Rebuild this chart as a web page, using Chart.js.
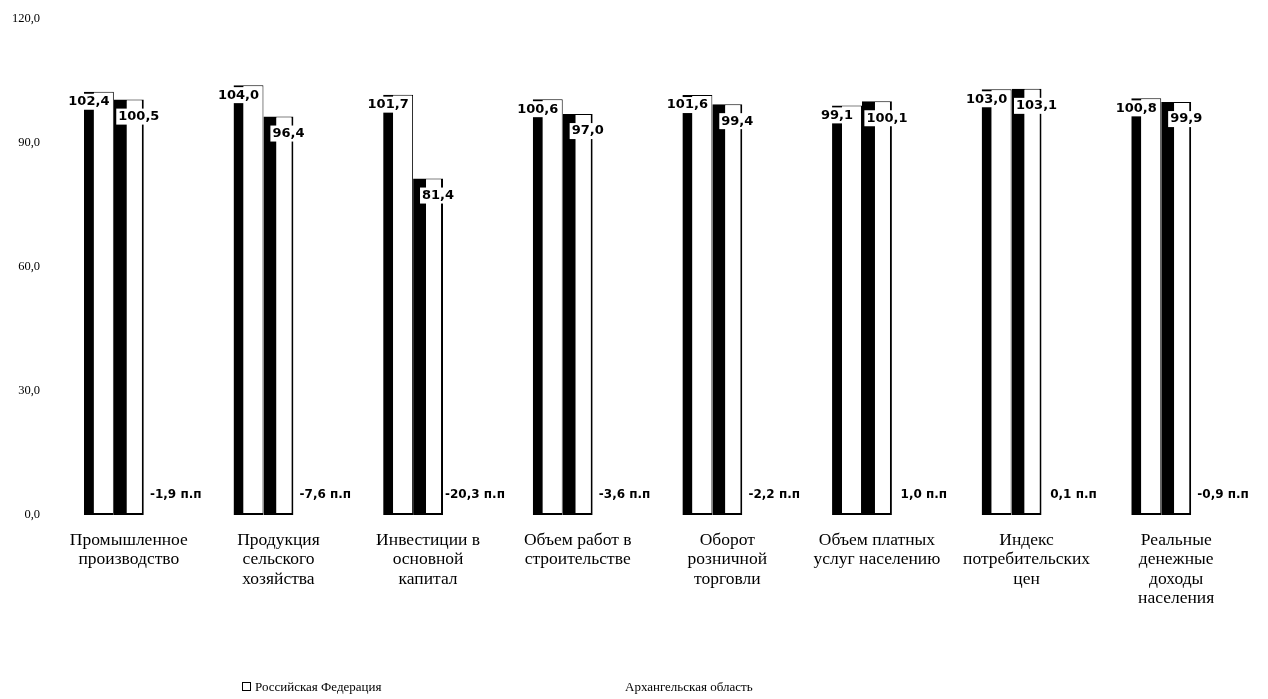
<!DOCTYPE html>
<html>
<head>
<meta charset="utf-8">
<script src="https://cdn.jsdelivr.net/npm/chart.js@4.4.1/dist/chart.umd.min.js"></script>
<style>
  html, body { margin: 0; padding: 0; background: #fff; }
  #wrap { position: relative; width: 1268px; height: 699px; }
  canvas { position: absolute; left: 0; top: 0; }
  .leg { position: absolute; top: 679px; font-family: "Liberation Serif", serif; font-size: 13px; color: #000; white-space: nowrap; }
  .box { display: inline-block; width: 7px; height: 7px; border: 1px solid #000; margin-right: 4px; vertical-align: 0px; }
</style>
</head>
<body>
<div id="wrap">
  <canvas id="c" width="1268" height="699"></canvas>
  <div class="leg" style="left:242px;"><span class="box"></span>Российская Федерация</div>
  <div class="leg" style="left:625px;">Архангельская область</div>
</div>
<script>
const categories = [
  ["Промышленное", "производство"],
  ["Продукция", "сельского", "хозяйства"],
  ["Инвестиции в", "основной", "капитал"],
  ["Объем работ в", "строительстве"],
  ["Оборот", "розничной", "торговли"],
  ["Объем платных", "услуг населению"],
  ["Индекс", "потребительских", "цен"],
  ["Реальные", "денежные", "доходы", "населения"]
];
const seriesNames = ["Российская Федерация", "Архангельская область", "Разница, п.п"];
const russia = [102.4, 104.0, 101.7, 100.6, 101.6, 99.1, 103.0, 100.8];
const arkhangelsk = [100.5, 96.4, 81.4, 97.0, 99.4, 100.1, 103.1, 99.9];
const difference = [-1.9, -7.6, -20.3, -3.6, -2.2, 1.0, 0.1, -0.9];
const yTicks = [0, 30, 60, 90, 120];

const fmt = v => v.toFixed(1).replace('.', ',');

const labelPlugin = {
  id: 'valueLabels',
  afterDatasetsDraw(chart) {
    const ctx = chart.ctx;
    const yScale = chart.scales.y;
    const base = yScale.getPixelForValue(0);
    ctx.save();
    [[0, -10, 10], [1, 10, 17]].forEach(([di, dx, dy]) => {
      const meta = chart.getDatasetMeta(di);
      ctx.font = 'bold 13px "DejaVu Sans", sans-serif';
      ctx.textAlign = 'center';
      ctx.textBaseline = 'middle';
      meta.data.forEach((el, i) => {
        const t = fmt(chart.data.datasets[di].data[i]);
        const x = el.x + dx, y = el.y + dy;
        const w = ctx.measureText(t).width + 4;
        ctx.fillStyle = '#fff';
        ctx.fillRect(x - w / 2, y - 8, w, 16);
        ctx.fillStyle = '#000';
        ctx.fillText(t, x, y);
      });
    });
    const meta = chart.getDatasetMeta(2);
    ctx.font = 'bold 12px "DejaVu Sans", sans-serif';
    ctx.textAlign = 'center';
    ctx.textBaseline = 'middle';
    meta.data.forEach((el, i) => {
      const t = fmt(chart.data.datasets[2].data[i]) + ' п.п';
      ctx.fillStyle = '#000';
      ctx.fillText(t, el.x + 17, base - 20);
    });
    ctx.restore();
  }
};

new Chart(document.getElementById('c'), {
  type: 'bar',
  data: {
    labels: categories,
    datasets: [
      {
        label: seriesNames[0],
        data: russia,
        backgroundColor: '#fff',
        borderColor: '#000',
        borderWidth: { left: 10, right: 1, top: 1, bottom: 2 },
        borderSkipped: false
      },
      {
        label: seriesNames[1],
        data: arkhangelsk,
        backgroundColor: '#fff',
        borderColor: '#000',
        borderWidth: { left: 13, right: 2, top: 1, bottom: 2 },
        borderSkipped: false
      },
      {
        label: seriesNames[2],
        data: difference,
        backgroundColor: 'rgba(0,0,0,0)',
        borderWidth: 0
      }
    ]
  },
  options: {
    responsive: false,
    animation: false,
    devicePixelRatio: 1,
    layout: { padding: { top: 19, right: 17, bottom: 0, left: 0 } },
    datasets: { bar: { categoryPercentage: 0.6, barPercentage: 1.0 } },
    plugins: {
      legend: { display: false },
      tooltip: { enabled: false }
    },
    scales: {
      x: {
        grid: { display: false },
        border: { display: false },
        ticks: {
          color: '#000',
          padding: 8,
          maxRotation: 0,
          autoSkip: false,
          font: { family: '"Liberation Serif", serif', size: 17.5, lineHeight: 1.1 }
        },
        afterFit(scale) { scale.height = 184; }
      },
      y: {
        min: 0,
        max: 120,
        grid: { display: false },
        border: { display: false },
        afterBuildTicks(scale) { scale.ticks = yTicks.map(v => ({ value: v })); },
        ticks: {
          color: '#000',
          padding: 6,
          font: { family: '"Liberation Serif", serif', size: 12.5 },
          callback: v => fmt(v)
        },
        afterFit(scale) { scale.width = 54; }
      }
    }
  },
  plugins: [labelPlugin]
});
</script>
</body>
</html>
